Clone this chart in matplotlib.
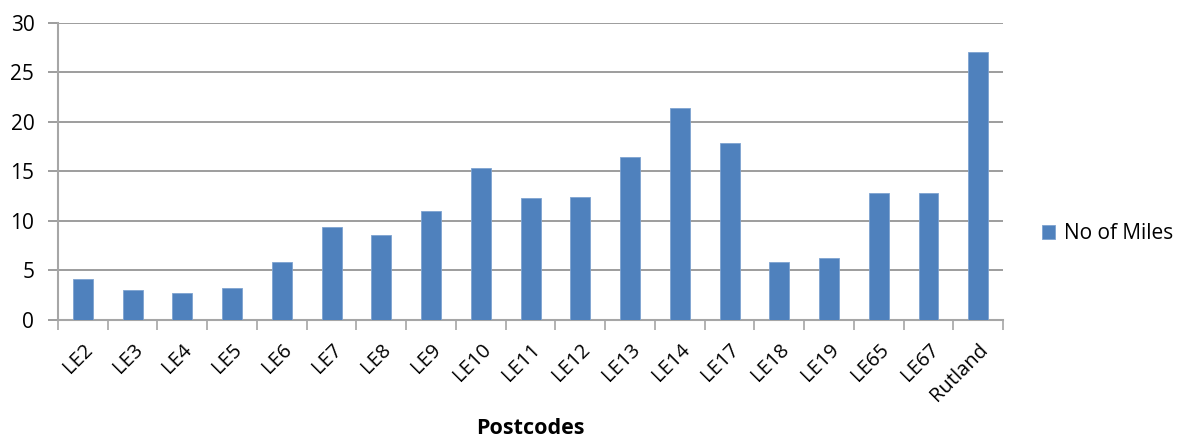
import matplotlib.pyplot as plt
import numpy as np

postcodes = ['LE2', 'LE3', 'LE4', 'LE5', 'LE6', 'LE7', 'LE8', 'LE9', 'LE10', 'LE11',
             'LE12', 'LE13', 'LE14', 'LE17', 'LE18', 'LE19', 'LE65', 'LE67', 'Rutland']
miles = [4.1, 3.0, 2.7, 3.2, 5.9, 9.4, 8.6, 11.0, 15.4, 12.3,
         12.4, 16.5, 21.4, 17.9, 5.9, 6.3, 12.8, 12.8, 27.1]

plt.rcParams['font.family'] = ['Open Sans', 'DejaVu Sans']
grey = '#a6a6a6'

fig = plt.figure(figsize=(11.9, 4.41), dpi=100)
ax = fig.add_axes([0.0487, 0.2744, 0.7943, 0.6736])

x = np.arange(len(postcodes))
ax.bar(x, miles, width=0.4, color='#4f81bd', edgecolor='#7ea3d0', linewidth=0.6,
       label='No of Miles', zorder=3)

ax.set_xlim(-0.5, len(postcodes) - 0.5)
ax.set_ylim(0, 30)
ax.set_yticks(range(0, 31, 5))
ax.yaxis.grid(True, color='#8c8c8c', linewidth=1.2, zorder=0)

ax.set_xticks(x)
ax.set_xticklabels(postcodes, rotation=45, ha='right', rotation_mode='anchor', fontsize=14.5)
ax.set_xticks(np.arange(-0.5, len(postcodes)), minor=True)
ax.tick_params(axis='x', which='major', length=0, pad=14)
ax.tick_params(axis='x', which='minor', length=7, color=grey, width=1.2)
ax.tick_params(axis='y', length=7, color='#8c8c8c', width=1.2, labelsize=15, pad=10)

for s in ['top', 'right']:
    ax.spines[s].set_visible(False)
for s in ['left', 'bottom']:
    ax.spines[s].set_color(grey)
    ax.spines[s].set_linewidth(1.5)

ax.set_xlabel('Postcodes', fontsize=15.5, fontweight='bold', labelpad=9)

fig.legend(loc='center left', bbox_to_anchor=(0.872, 0.47), frameon=False,
           fontsize=15, handlelength=0.65, handleheight=0.65, handletextpad=0.4,
           borderpad=0.2, borderaxespad=0)

fig.savefig('out.png', dpi=100)
